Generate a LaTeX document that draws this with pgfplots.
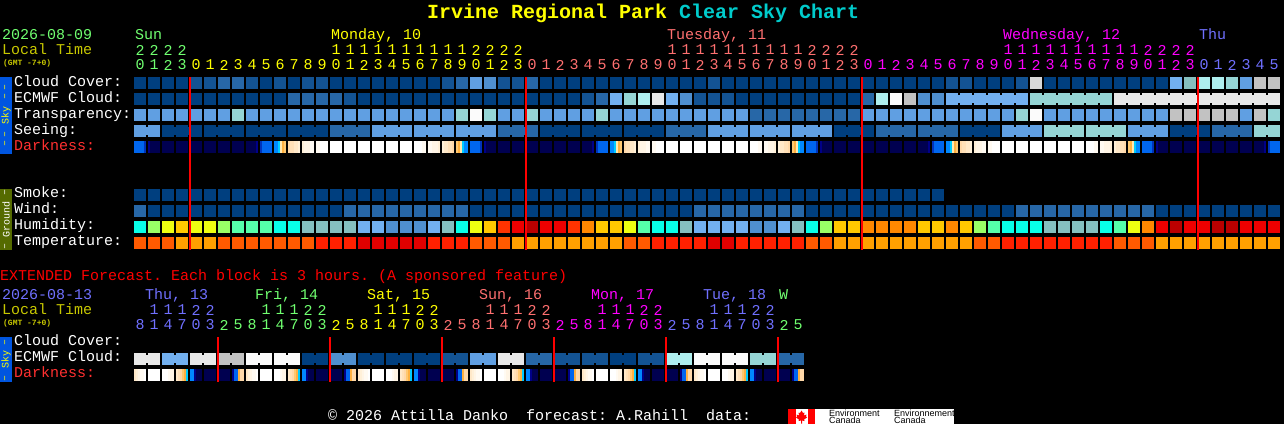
\documentclass[border=0pt]{standalone}
\usepackage{fontspec}
\usepackage{pgfplots}
\usepackage{pgfplotstable}
\pgfplotsset{compat=1.18}
\setmainfont{Liberation Mono}
\newfontfamily\logofont{Liberation Sans}
\frenchspacing

% sky levels
\definecolor{c0}{HTML}{003F7F}\definecolor{c1}{HTML}{135393}\definecolor{c2}{HTML}{2767A7}
\definecolor{c3}{HTML}{4F8FCF}\definecolor{c4}{HTML}{609FE2}\definecolor{c5}{HTML}{72B0F0}
\definecolor{c6}{HTML}{95D5D5}\definecolor{c7}{HTML}{AEEEEE}\definecolor{c8}{HTML}{C2C2C2}
\definecolor{c9}{HTML}{E8E8E8}\definecolor{c10}{HTML}{FBFBFB}\definecolor{c11}{HTML}{85BFBF}
\definecolor{c12}{HTML}{D8D8D8}
% humidity
\definecolor{c13}{HTML}{08FFE8}\definecolor{c14}{HTML}{99FF66}\definecolor{c15}{HTML}{EEFF11}
\definecolor{c16}{HTML}{FFC800}\definecolor{c17}{HTML}{55FFAA}\definecolor{c18}{HTML}{FF8800}
\definecolor{c19}{HTML}{FF3300}\definecolor{c20}{HTML}{EE0000}\definecolor{c21}{HTML}{BB0000}
% temperature
\definecolor{c22}{HTML}{FF5A00}\definecolor{c23}{HTML}{FFA000}\definecolor{c24}{HTML}{FF2000}
\definecolor{c25}{HTML}{E00000}
% darkness
\definecolor{c30}{HTML}{000050}\definecolor{c31}{HTML}{FFFFFF}\definecolor{c32}{HTML}{0033BB}
\definecolor{c33}{HTML}{0066EE}\definecolor{c34}{HTML}{0088FF}\definecolor{c35}{HTML}{00CCFF}
\definecolor{c36}{HTML}{FFE8B0}\definecolor{c37}{HTML}{FFB040}\definecolor{c38}{HTML}{FFC870}
\definecolor{c39}{HTML}{FFD8A8}\definecolor{c40}{HTML}{FFE0B8}\definecolor{c41}{HTML}{FFE8C8}
\definecolor{c42}{HTML}{FFF0D8}\definecolor{c43}{HTML}{FFF5E6}\definecolor{c44}{HTML}{FFFAF2}
\definecolor{c45}{HTML}{000088}
% text
\definecolor{red}{HTML}{FF0000}\definecolor{yellow}{HTML}{FFFF00}\definecolor{magenta}{HTML}{FF00FF}
\definecolor{tgreen}{HTML}{70FF70}\definecolor{tsalmon}{HTML}{FF7070}
\definecolor{tblue}{HTML}{7070FF}\definecolor{tlocal}{HTML}{C8C800}
\definecolor{tteal}{HTML}{00CCCC}\definecolor{tred}{HTML}{FF3030}
\definecolor{skybar}{HTML}{0055E0}\definecolor{groundbar}{HTML}{556B00}

\pgfdeclareplotmark{block}{\pgfpathrectangle{\pgfqpoint{-6pt}{-6pt}}{\pgfqpoint{12pt}{12pt}}\pgfusepathqfill}
\pgfdeclareplotmark{bridge}{\pgfpathrectangle{\pgfqpoint{-1pt}{-4pt}}{\pgfqpoint{2pt}{8pt}}\pgfusepathqfill}
\pgfdeclareplotmark{stripe}{\pgfpathrectangle{\pgfqpoint{-1pt}{-6pt}}{\pgfqpoint{2pt}{12pt}}\pgfusepathqfill}
% midnight lines, marks so that they stay over the blocks
\pgfdeclareplotmark{midnight}{\pgfpathrectangle{\pgfqpoint{-1pt}{-86.5pt}}{\pgfqpoint{2pt}{173pt}}\pgfusepathqfill}
\pgfdeclareplotmark{midnightext}{\pgfpathrectangle{\pgfqpoint{-1pt}{-22.5pt}}{\pgfqpoint{2pt}{45pt}}\pgfusepathqfill}

\pgfplotsset{
  levels/.style={scatter, only marks, scatter src=explicit symbolic,
    scatter/classes={
      0={color=c0},1={color=c1},2={color=c2},3={color=c3},4={color=c4},5={color=c5},
      6={color=c6},7={color=c7},8={color=c8},9={color=c9},10={color=c10},11={color=c11},
      12={color=c12},13={color=c13},14={color=c14},15={color=c15},16={color=c16},
      17={color=c17},18={color=c18},19={color=c19},20={color=c20},21={color=c21},
      22={color=c22},23={color=c23},24={color=c24},25={color=c25},30={color=c30},
      31={color=c31},32={color=c32},33={color=c33},34={color=c34},35={color=c35},
      36={color=c36},37={color=c37},38={color=c38},39={color=c39},40={color=c40},
      41={color=c41},42={color=c42},43={color=c43},44={color=c44},45={color=c45}}},
}

% one row of hourly blocks: y, values
\newcommand\cellrow[2]{\addplot[levels,mark=block] table[row sep=\\,header=false,
  x expr=140+14*\coordindex,y expr=#1,meta index=0]{#2};}
% joins between blocks of one forecast: y, gap number and value
\newcommand\joinrow[2]{\addplot[levels,mark=bridge] table[row sep=\\,header=false,
  x expr=147+14*\thisrowno{0},y expr=#1,meta index=1]{#2};}
% a row of digits: colour, y, first block, digits
\newcommand\digits[4]{\addplot[draw=none,mark=none,point meta=explicit symbolic,
  nodes near coords={\pgfplotspointmeta},
  every node near coord/.style={anchor=center,inner sep=0pt,text=#1,font=\fontsize{15}{15}\selectfont}]
  table[row sep=\\,header=false,x expr=140+14*(#3+\coordindex),y expr=#2,meta index=0]{#4};}

% twilight, in 2 px stripes from the start of the cell at the end of the night
\pgfplotstableread{
dx cls
-3 45
1 32
3 33
5 33
7 33
9 33
11 33
15 34
17 34
19 35
21 36
23 37
25 38
29 39
31 40
33 40
35 41
37 41
39 42
43 42
45 43
47 43
49 43
51 44
53 44
57 44
59 44
}\twilight

% one day of the extended darkness row
\pgfplotstableread{
dx cls
1 41
3 42
5 43
7 44
9 44
35 44
37 43
39 43
43 41
45 40
47 39
49 38
51 37
53 35
57 34
59 34
61 45
99 45
101 33
103 33
105 37
107 39
109 39
}\extday

\tikzset{
  lbl/.style={anchor=base west,inner sep=0pt,font=\fontsize{15}{15}\selectfont,text=white},
  side/.style={rotate=90,anchor=center,inner sep=0pt,font=\fontsize{10}{10}\selectfont},
  logo/.style={lbl,text=black,font=\logofont\fontsize{9}{9}\selectfont},
}

\begin{document}
\begin{tikzpicture}
\fill[black,use as bounding box] (0,0) rectangle (1284pt,424pt);
\begin{axis}[
    at={(0,0)},anchor=south west,scale only axis,
    width=1284pt,height=424pt,
    xmin=0,xmax=1284,ymin=0,ymax=424,
    y dir=reverse,axis lines=none,clip=false,
  ]

\cellrow{83}{0\\0\\0\\0\\1\\1\\2\\2\\1\\0\\1\\0\\1\\1\\0\\0\\0\\0\\0\\0\\0\\0\\1\\2\\4\\3\\1\\1\\2\\0\\0\\0\\0\\0\\0\\0\\0\\0\\0\\0\\0\\1\\0\\0\\0\\0\\0\\0\\0\\0\\0\\0\\0\\0\\0\\0\\0\\0\\1\\1\\0\\0\\0\\1\\12\\0\\0\\0\\0\\0\\0\\0\\0\\0\\5\\11\\7\\7\\6\\4\\8\\8\\}

\cellrow{99}{0\\0\\0\\0\\0\\0\\0\\0\\0\\0\\0\\2\\2\\2\\2\\1\\0\\0\\0\\0\\0\\0\\0\\0\\0\\0\\0\\0\\0\\0\\0\\0\\1\\2\\5\\6\\7\\9\\5\\3\\1\\1\\1\\0\\0\\0\\0\\0\\0\\0\\0\\0\\2\\7\\10\\8\\3\\3\\5\\5\\5\\5\\5\\5\\6\\6\\6\\6\\6\\6\\9\\9\\9\\9\\9\\9\\9\\9\\9\\9\\9\\9\\}
\joinrow{99}{58 5\\59 5\\60 5\\61 5\\62 5\\64 6\\65 6\\66 6\\67 6\\68 6\\70 9\\71 9\\72 9\\73 9\\74 9\\75 9\\76 9\\77 9\\78 9\\79 9\\80 9\\}

\cellrow{115}{4\\4\\4\\4\\4\\4\\4\\6\\4\\4\\4\\4\\4\\4\\4\\4\\4\\4\\4\\4\\4\\4\\4\\6\\10\\6\\4\\4\\6\\4\\4\\4\\4\\6\\4\\4\\4\\4\\4\\4\\4\\4\\4\\4\\2\\2\\2\\2\\2\\2\\2\\2\\4\\4\\4\\4\\4\\4\\4\\4\\4\\4\\4\\6\\10\\4\\4\\4\\4\\4\\4\\4\\4\\4\\8\\8\\8\\8\\8\\4\\8\\6\\}

\cellrow{131}{4\\4\\0\\0\\0\\0\\0\\0\\0\\0\\0\\0\\0\\0\\2\\2\\2\\4\\4\\4\\4\\4\\4\\4\\4\\4\\2\\2\\2\\0\\0\\0\\0\\0\\0\\0\\0\\0\\2\\2\\2\\4\\4\\4\\4\\4\\4\\4\\4\\4\\0\\0\\0\\2\\2\\2\\2\\2\\2\\0\\0\\0\\4\\4\\4\\6\\6\\6\\6\\6\\6\\4\\4\\4\\0\\0\\0\\2\\2\\2\\6\\6\\}
\joinrow{131}{0 4\\2 0\\3 0\\5 0\\6 0\\8 0\\9 0\\11 0\\12 0\\14 2\\15 2\\17 4\\18 4\\20 4\\21 4\\23 4\\24 4\\26 2\\27 2\\29 0\\30 0\\32 0\\33 0\\35 0\\36 0\\38 2\\39 2\\41 4\\42 4\\44 4\\45 4\\47 4\\48 4\\50 0\\51 0\\53 2\\54 2\\56 2\\57 2\\59 0\\60 0\\62 4\\63 4\\65 6\\66 6\\68 6\\69 6\\71 4\\72 4\\74 0\\75 0\\77 2\\78 2\\80 6\\}

\cellrow{147}{30\\30\\30\\30\\30\\30\\30\\30\\30\\30\\30\\31\\31\\31\\31\\31\\31\\31\\31\\31\\31\\31\\31\\30\\30\\30\\30\\30\\30\\30\\30\\30\\30\\30\\30\\31\\31\\31\\31\\31\\31\\31\\31\\31\\31\\31\\31\\30\\30\\30\\30\\30\\30\\30\\30\\30\\30\\30\\30\\31\\31\\31\\31\\31\\31\\31\\31\\31\\31\\31\\31\\30\\30\\30\\30\\30\\30\\30\\30\\30\\30\\30\\}
\pgfplotsinvokeforeach{260,596,932,1268}{
  \addplot[levels,mark=stripe,restrict x to domain=134:1280]
    table[x expr=#1+\thisrow{dx},y expr=147,meta=cls]{\twilight};
}
\pgfplotsinvokeforeach{146,482,818,1154}{
  \addplot[levels,mark=stripe,restrict x to domain=134:1280]
    table[x expr=#1-\thisrow{dx},y expr=147,meta=cls]{\twilight};
}

\cellrow{195}{0\\0\\0\\0\\0\\0\\0\\0\\0\\0\\0\\0\\0\\0\\0\\0\\0\\0\\0\\0\\0\\0\\0\\0\\0\\0\\0\\0\\0\\0\\0\\0\\0\\0\\0\\0\\0\\0\\0\\0\\0\\0\\0\\0\\0\\0\\0\\0\\0\\0\\0\\0\\0\\0\\0\\0\\0\\0\\}

\cellrow{211}{2\\0\\0\\0\\0\\0\\0\\0\\0\\0\\0\\0\\0\\0\\0\\2\\2\\2\\2\\2\\2\\2\\2\\2\\0\\0\\0\\0\\0\\0\\0\\0\\0\\0\\0\\0\\0\\0\\0\\0\\2\\2\\2\\2\\2\\2\\2\\2\\0\\0\\0\\0\\0\\0\\0\\0\\0\\0\\0\\0\\0\\0\\0\\2\\2\\2\\2\\2\\2\\2\\2\\2\\2\\0\\0\\0\\0\\0\\0\\0\\0\\0\\}

\cellrow{227}{13\\14\\15\\16\\15\\15\\14\\17\\17\\17\\13\\13\\11\\11\\11\\11\\5\\5\\3\\3\\3\\5\\11\\13\\15\\16\\19\\20\\21\\20\\20\\19\\18\\16\\16\\15\\17\\13\\13\\11\\5\\5\\5\\5\\3\\3\\5\\11\\13\\14\\16\\16\\18\\18\\18\\18\\16\\16\\18\\16\\14\\17\\13\\13\\13\\11\\11\\11\\11\\13\\17\\15\\18\\20\\21\\20\\20\\21\\21\\20\\20\\20\\}

\cellrow{243}{22\\22\\22\\23\\23\\23\\22\\22\\22\\22\\22\\22\\22\\24\\24\\24\\25\\25\\25\\25\\25\\24\\24\\24\\22\\22\\22\\23\\23\\23\\23\\23\\23\\23\\23\\22\\22\\24\\24\\24\\24\\25\\25\\24\\24\\24\\24\\24\\22\\22\\23\\23\\23\\23\\23\\23\\23\\23\\23\\23\\22\\22\\24\\24\\24\\24\\24\\24\\24\\24\\22\\22\\22\\23\\23\\23\\23\\23\\23\\23\\23\\23\\}

% extended forecast
\cellrow{359}{9\\9\\5\\5\\9\\9\\8\\8\\10\\10\\10\\10\\0\\0\\3\\3\\0\\0\\0\\0\\0\\0\\1\\1\\4\\4\\9\\9\\2\\2\\1\\1\\1\\1\\0\\0\\1\\1\\7\\7\\10\\10\\10\\10\\6\\6\\2\\2\\}
\joinrow{359}{0 9\\2 5\\4 9\\6 8\\8 10\\10 10\\12 0\\14 3\\16 0\\18 0\\20 0\\22 1\\24 4\\26 9\\28 2\\30 1\\32 1\\34 0\\36 1\\38 7\\40 10\\42 10\\44 6\\46 2\\}

\cellrow{375}{31\\31\\31\\31\\30\\30\\30\\30\\31\\31\\31\\31\\30\\30\\30\\30\\31\\31\\31\\31\\30\\30\\30\\30\\31\\31\\31\\31\\30\\30\\30\\30\\31\\31\\31\\31\\30\\30\\30\\30\\31\\31\\31\\31\\30\\30\\30\\30\\}
\pgfplotsinvokeforeach{134,246,358,470,582,694}{
  \addplot[levels,mark=stripe] table[x expr=#1+\thisrow{dx},y expr=375,meta=cls]{\extday};
}

% midnight lines
\addplot[only marks,mark=midnight,red] coordinates {(190,163.5) (526,163.5) (862,163.5) (1198,163.5)};
\addplot[only marks,mark=midnightext,red] coordinates {(218,359.5) (330,359.5) (442,359.5) (554,359.5) (666,359.5) (778,359.5)};

% hour digits
\digits{tgreen}{50}{0}{2\\2\\2\\2\\}
\digits{tgreen}{65}{0}{0\\1\\2\\3\\}
\digits{yellow}{50}{14}{1\\1\\1\\1\\1\\1\\1\\1\\1\\1\\2\\2\\2\\2\\}
\digits{yellow}{65}{4}{0\\1\\2\\3\\4\\5\\6\\7\\8\\9\\0\\1\\2\\3\\4\\5\\6\\7\\8\\9\\0\\1\\2\\3\\}
\digits{tsalmon}{50}{38}{1\\1\\1\\1\\1\\1\\1\\1\\1\\1\\2\\2\\2\\2\\}
\digits{tsalmon}{65}{28}{0\\1\\2\\3\\4\\5\\6\\7\\8\\9\\0\\1\\2\\3\\4\\5\\6\\7\\8\\9\\0\\1\\2\\3\\}
\digits{magenta}{50}{62}{1\\1\\1\\1\\1\\1\\1\\1\\1\\1\\2\\2\\2\\2\\}
\digits{magenta}{65}{52}{0\\1\\2\\3\\4\\5\\6\\7\\8\\9\\0\\1\\2\\3\\4\\5\\6\\7\\8\\9\\0\\1\\2\\3\\}
\digits{tblue}{65}{76}{0\\1\\2\\3\\4\\5\\}

\digits{tblue}{310}{1}{1\\1\\1\\2\\2\\}
\digits{tgreen}{310}{9}{1\\1\\1\\2\\2\\}
\digits{yellow}{310}{17}{1\\1\\1\\2\\2\\}
\digits{tsalmon}{310}{25}{1\\1\\1\\2\\2\\}
\digits{magenta}{310}{33}{1\\1\\1\\2\\2\\}
\digits{tblue}{310}{41}{1\\1\\1\\2\\2\\}
\digits{tblue}{325}{0}{8\\1\\4\\7\\0\\3\\}
\digits{tgreen}{325}{6}{2\\5\\8\\1\\4\\7\\0\\3\\}
\digits{yellow}{325}{14}{2\\5\\8\\1\\4\\7\\0\\3\\}
\digits{tsalmon}{325}{22}{2\\5\\8\\1\\4\\7\\0\\3\\}
\digits{magenta}{325}{30}{2\\5\\8\\1\\4\\7\\0\\3\\}
\digits{tblue}{325}{38}{2\\5\\8\\1\\4\\7\\0\\3\\}
\digits{tgreen}{325}{46}{2\\5\\}

% title
\node[lbl,font=\fontsize{20}{20}\selectfont\bfseries] at (axis cs:427,18)
  {\textcolor{yellow}{Irvine Regional Park} \textcolor{tteal}{Clear Sky Chart}};

% header
\node[lbl,text=tgreen] at (axis cs:2,39) {2026-08-09};
\node[lbl,text=tlocal] at (axis cs:2,54) {Local Time};
\node[lbl,text=tlocal,font=\fontsize{8}{8}\selectfont\bfseries] at (axis cs:3,65) {(GMT -7+0)};
\node[lbl,text=tgreen] at (axis cs:135,39) {Sun};
\node[lbl,text=yellow] at (axis cs:331,39) {Monday, 10};
\node[lbl,text=tsalmon] at (axis cs:667,39) {Tuesday, 11};
\node[lbl,text=magenta] at (axis cs:1003,39) {Wednesday, 12};
\node[lbl,text=tblue] at (axis cs:1199,39) {Thu};

% row labels
\node[lbl] at (axis cs:14,86) {Cloud Cover:};
\node[lbl] at (axis cs:14,102) {ECMWF Cloud:};
\node[lbl] at (axis cs:14,118) {Transparency:};
\node[lbl] at (axis cs:14,134) {Seeing:};
\node[lbl,text=tred] at (axis cs:14,150) {Darkness:};
\node[lbl] at (axis cs:14,197) {Smoke:};
\node[lbl] at (axis cs:14,213) {Wind:};
\node[lbl] at (axis cs:14,229) {Humidity:};
\node[lbl] at (axis cs:14,245) {Temperature:};

% side bars
\fill[skybar] (axis cs:0,77) rectangle (axis cs:12,154);
\fill[groundbar] (axis cs:0,189) rectangle (axis cs:12,250);
\fill[skybar] (axis cs:0,337) rectangle (axis cs:12,382);
\node[side,text=yellow] at (axis cs:6,115) {Sky};
\node[side,text=white] at (axis cs:6,219) {Ground};
\node[side,text=yellow] at (axis cs:6,359) {Sky};
\pgfplotsinvokeforeach{87,96,134,143,342,378}{
  \node[side,text=yellow] at (axis cs:6,#1) {–};
}
\pgfplotsinvokeforeach{192,246}{
  \node[side,text=white] at (axis cs:6,#1) {–};
}

% extended forecast text
\node[lbl,text=red] at (axis cs:0,280) {EXTENDED Forecast. Each block is 3 hours. (A sponsored feature)};
\node[lbl,text=tblue] at (axis cs:2,299) {2026-08-13};
\node[lbl,text=tlocal] at (axis cs:2,314) {Local Time};
\node[lbl,text=tlocal,font=\fontsize{8}{8}\selectfont\bfseries] at (axis cs:3,325) {(GMT -7+0)};
\node[lbl,text=tblue] at (axis cs:145,299) {Thu, 13};
\node[lbl,text=tgreen] at (axis cs:255,299) {Fri, 14};
\node[lbl,text=yellow] at (axis cs:367,299) {Sat, 15};
\node[lbl,text=tsalmon] at (axis cs:479,299) {Sun, 16};
\node[lbl,text=magenta] at (axis cs:591,299) {Mon, 17};
\node[lbl,text=tblue] at (axis cs:703,299) {Tue, 18};
\node[lbl,text=tgreen] at (axis cs:779,299) {W};
\node[lbl] at (axis cs:14,345) {Cloud Cover:};
\node[lbl] at (axis cs:14,361) {ECMWF Cloud:};
\node[lbl,text=tred] at (axis cs:14,377) {Darkness:};

% footer
\node[lbl] at (axis cs:328,420) {© 2026 Attilla Danko\ \ forecast: A.Rahill\ \ data:};
\fill[white] (axis cs:788,409) rectangle (axis cs:954,424);
\fill[red] (axis cs:788,409) rectangle (axis cs:796,424);
\fill[red] (axis cs:808,409) rectangle (axis cs:815,424);
\fill[red] (axis cs:801.5,410.5) -- ++(1.5pt,-2.5pt) -- ++(1.5pt,0.5pt) -- ++(-0.5pt,-3pt)
  -- ++(2.5pt,1pt) -- ++(-0.5pt,-2pt) -- ++(1pt,-1pt) -- ++(-3pt,-2pt) -- ++(0.5pt,-1.5pt)
  -- ++(-2.5pt,0.5pt) -- ++(0pt,-3pt) -- ++(-1pt,0pt) -- ++(0pt,3pt) -- ++(-2.5pt,-0.5pt)
  -- ++(0.5pt,1.5pt) -- ++(-3pt,2pt) -- ++(1pt,1pt) -- ++(-0.5pt,2pt) -- ++(2.5pt,-1pt)
  -- ++(-0.5pt,3pt) -- ++(1.5pt,-0.5pt) -- cycle;
\node[logo] at (axis cs:829,416) {Environment};
\node[logo] at (axis cs:829,423) {Canada};
\node[logo] at (axis cs:894,416) {Environnement};
\node[logo] at (axis cs:894,423) {Canada};
\end{axis}
\end{tikzpicture}
\end{document}
